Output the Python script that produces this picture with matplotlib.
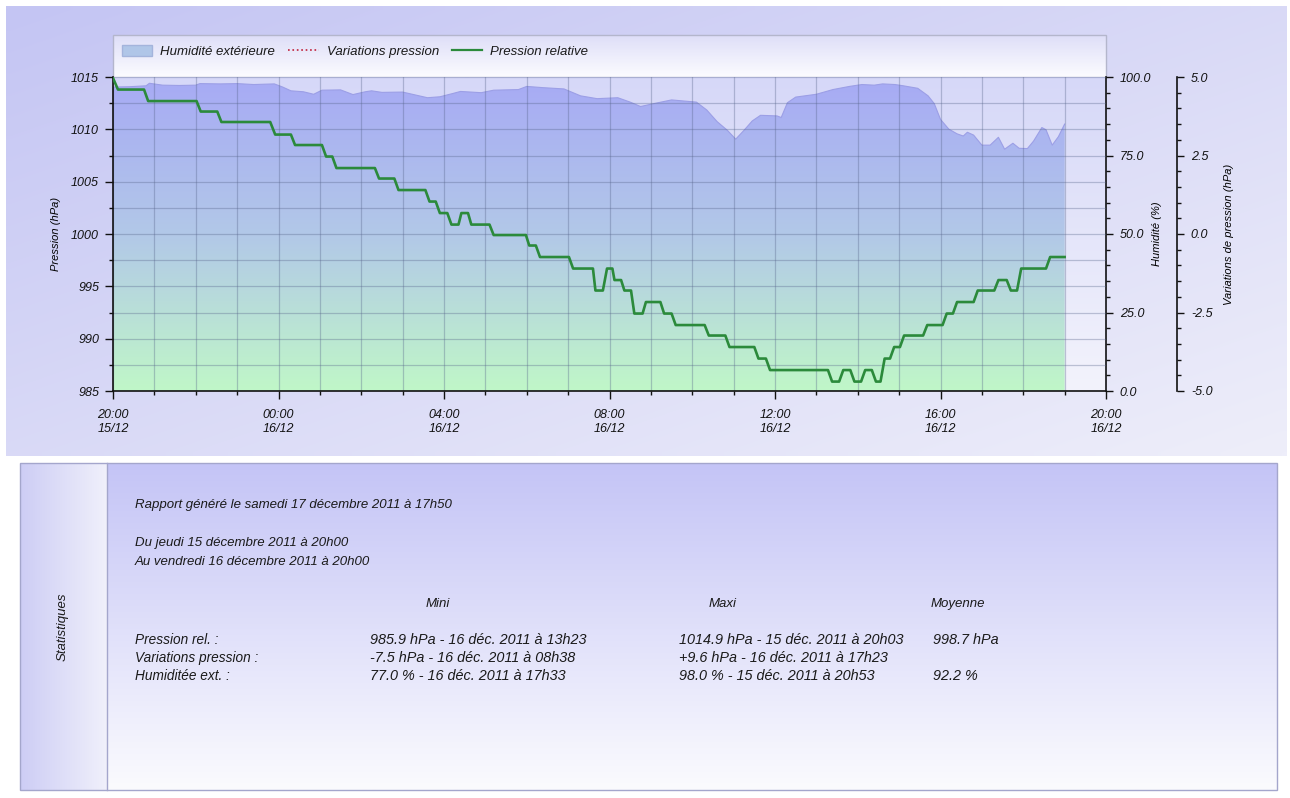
import numpy as np
import matplotlib
matplotlib.use('Agg')
import matplotlib.pyplot as plt
import matplotlib.dates as mdates
from matplotlib.ticker import MultipleLocator, FormatStrFormatter
from matplotlib.lines import Line2D
from matplotlib.patches import Patch, Rectangle
from datetime import datetime, timedelta

plt.rcParams['font.family'] = ['Liberation Sans', 'DejaVu Sans']
plt.rcParams['font.style'] = 'italic'
plt.rcParams['text.color'] = '#1a1a1a'

start = datetime(2011, 12, 15, 20, 0)

# pression relative (hPa) - heures depuis le 15/12 20h00
pres_hours = [0.00, 0.12, 0.75, 0.85, 2.02, 2.12, 2.52, 2.62, 3.80, 3.92,
              4.30, 4.40, 5.05, 5.15, 5.30, 5.40, 6.33, 6.43, 6.80, 6.90,
              7.55, 7.65, 7.80, 7.90, 8.08, 8.18, 8.35, 8.42, 8.58, 8.66,
              9.10, 9.20, 9.98, 10.06, 10.22, 10.32, 11.02, 11.12, 11.60, 11.66,
              11.84, 11.94, 12.07, 12.12, 12.28, 12.36, 12.52, 12.60, 12.80, 12.88,
              13.23, 13.32, 13.50, 13.60, 14.30, 14.40, 14.80, 14.90, 15.50, 15.60,
              15.78, 15.88, 17.28, 17.38, 17.55, 17.65, 17.82, 17.92, 18.08, 18.18,
              18.34, 18.44, 18.55, 18.65, 18.78, 18.88, 19.02, 19.12, 19.58, 19.68,
              20.05, 20.15, 20.30, 20.40, 20.80, 20.90, 21.30, 21.40, 21.60, 21.70,
              21.85, 21.95, 22.55, 22.65, 23.00]
pres_values = [1014.9, 1013.8, 1013.8, 1012.7, 1012.7, 1011.7, 1011.7, 1010.7, 1010.7, 1009.5,
               1009.5, 1008.5, 1008.5, 1007.4, 1007.4, 1006.3, 1006.3, 1005.3, 1005.3, 1004.2,
               1004.2, 1003.1, 1003.1, 1002.0, 1002.0, 1000.9, 1000.9, 1002.0, 1002.0, 1000.9,
               1000.9, 999.9, 999.9, 998.9, 998.9, 997.8, 997.8, 996.7, 996.7, 994.6,
               994.6, 996.7, 996.7, 995.6, 995.6, 994.6, 994.6, 992.4, 992.4, 993.5,
               993.5, 992.4, 992.4, 991.3, 991.3, 990.3, 990.3, 989.2, 989.2, 988.1,
               988.1, 987.0, 987.0, 985.9, 985.9, 987.0, 987.0, 985.9, 985.9, 987.0,
               987.0, 985.9, 985.9, 988.1, 988.1, 989.2, 989.2, 990.3, 990.3, 991.3,
               991.3, 992.4, 992.4, 993.5, 993.5, 994.6, 994.6, 995.6, 995.6, 994.6,
               994.6, 996.7, 996.7, 997.8, 997.8]

# humidite exterieure (%)
hum_hours = [0.00, 0.40, 0.80, 0.88, 1.20, 1.60, 2.00, 2.10, 2.60, 3.00,
             3.40, 3.90, 4.10, 4.30, 4.60, 4.85, 5.05, 5.50, 5.80, 6.10,
             6.25, 6.50, 7.00, 7.30, 7.60, 7.90, 8.20, 8.40, 8.90, 9.20,
             9.80, 10.00, 10.40, 10.90, 11.30, 11.70, 12.20, 12.50, 12.75, 13.10,
             13.50, 14.10, 14.35, 14.60, 14.85, 15.05, 15.25, 15.45, 15.65, 16.05,
             16.15, 16.30, 16.50, 17.00, 17.40, 17.80, 18.10, 18.40, 18.60, 18.90,
             19.10, 19.45, 19.70, 19.85, 20.00, 20.20, 20.40, 20.55, 20.65, 20.80,
             21.00, 21.20, 21.40, 21.55, 21.75, 21.90, 22.10, 22.25, 22.45, 22.55,
             22.70, 22.85, 23.00]
hum_values = [96.8, 96.9, 97.2, 98.0, 97.4, 97.3, 97.4, 97.9, 97.8, 97.9,
              97.6, 97.8, 96.8, 95.6, 95.3, 94.5, 95.8, 95.9, 94.4, 95.3,
              95.6, 95.1, 95.2, 94.3, 93.4, 93.7, 94.7, 95.4, 95.0, 95.8,
              96.0, 97.0, 96.6, 96.2, 94.0, 93.1, 93.4, 92.0, 90.6, 91.6,
              92.7, 92.0, 89.5, 85.8, 83.0, 80.2, 83.0, 86.0, 87.8, 87.6,
              87.1, 91.8, 93.6, 94.5, 96.0, 97.0, 97.6, 97.4, 97.8, 97.6,
              97.2, 96.4, 94.0, 91.5, 86.5, 83.4, 81.9, 81.2, 82.4, 81.5,
              78.3, 78.3, 80.8, 77.0, 78.9, 77.3, 77.2, 79.6, 83.9, 83.2,
              78.3, 81.0, 85.0]

legend_labels = ['Humidité extérieure', 'Variations pression', 'Pression relative']

report_lines = ['Rapport généré le samedi 17 décembre 2011 à 17h50',
                'Du jeudi 15 décembre 2011 à 20h00',
                'Au vendredi 16 décembre 2011 à 20h00']
stat_headers = ['Mini', 'Maxi', 'Moyenne']
stat_rows = ['Pression rel. :', 'Variations pression :', 'Humiditée ext. :']
stat_min = ['985.9 hPa - 16 déc. 2011 à 13h23',
            '-7.5 hPa - 16 déc. 2011 à 08h38',
            '77.0 % - 16 déc. 2011 à 17h33']
stat_max = ['1014.9 hPa - 15 déc. 2011 à 20h03',
            '+9.6 hPa - 16 déc. 2011 à 17h23',
            '98.0 % - 15 déc. 2011 à 20h53']
stat_mean = ['998.7 hPa', '', '92.2 %']


def to_dates(hours):
    return mdates.date2num([start + timedelta(hours=h) for h in hours])


def grad_img(ax, extent, colors, direction='v', **kw):
    # colors: rgb (0-255) du haut (ou de la gauche) vers le bas (ou la droite)
    cols = np.array(colors, dtype=float) / 255.0
    stops = np.linspace(0, 1, len(cols))
    if direction == 'd':
        ii, jj = np.mgrid[0:64, 0:128]
        t = 0.5 * ii / 63 + 0.5 * jj / 127
    elif direction == 'h':
        t = np.linspace(0, 1, 256)[None, :]
    else:
        t = np.linspace(0, 1, 256)[:, None]
    arr = np.dstack([np.interp(t, stops, cols[:, k]) for k in range(3)])
    return ax.imshow(arr, extent=extent, aspect='auto', interpolation='bilinear',
                     origin='upper', **kw)


fig = plt.figure(figsize=(12.9, 7.98), dpi=100)
fig.patch.set_facecolor('white')

# decor de fond, en pixels
bg = fig.add_axes([0, 0, 1, 1], zorder=-10)
bg.set_xlim(0, 1290)
bg.set_ylim(798, 0)
bg.axis('off')
grad_img(bg, (6, 1287, 456, 6), [(196, 197, 243), (238, 238, 250)], 'd')
grad_img(bg, (107, 1277, 790, 463), [(196, 196, 246), (251, 251, 254)], 'v')
grad_img(bg, (20, 107, 790, 463), [(205, 205, 245), (240, 240, 251)], 'h')
bg.add_patch(Rectangle((20, 463), 1257, 327, fill=False, ec='#a4a6cc', lw=1))
bg.plot([107, 107], [463, 790], color='#a4a6cc', lw=1)
grad_img(bg, (113, 1106, 77, 35), [(222, 222, 248), (252, 252, 255)], 'v')
bg.add_patch(Rectangle((113, 35), 993, 42, fill=False, ec='#b4b6cc', lw=1))
bg.set_xlim(0, 1290)
bg.set_ylim(798, 0)

# textes statistiques
bg.text(63, 627, 'Statistiques', rotation=90, ha='center', va='center', fontsize=9.5)
bg.text(135, 505, report_lines[0], ha='left', va='center', fontsize=9.5)
bg.text(135, 543, report_lines[1], ha='left', va='center', fontsize=9.5)
bg.text(135, 562, report_lines[2], ha='left', va='center', fontsize=9.5)
for hx_, h in zip([438, 723, 958], stat_headers):
    bg.text(hx_, 604, h, ha='center', va='center', fontsize=9.5)
for i in range(len(stat_rows)):
    y = 640 + 18 * i
    bg.text(135, y, stat_rows[i], ha='left', va='center', fontsize=9.8)
    bg.text(370, y, stat_min[i], ha='left', va='center', fontsize=10.4)
    bg.text(679, y, stat_max[i], ha='left', va='center', fontsize=10.4)
    bg.text(933, y, stat_mean[i], ha='left', va='center', fontsize=10.4)

# graphique
L, R, T, B = 113, 1106, 77, 391
ax = fig.add_axes([L / 1290, 1 - B / 798, (R - L) / 1290, (B - T) / 798])
ax2 = ax.twinx()
ax3 = ax.twinx()
ax.set_zorder(3)
ax2.set_zorder(1)
ax3.set_zorder(2)
for a in (ax, ax2, ax3):
    a.patch.set_visible(False)

x0 = mdates.date2num(start)
x1 = mdates.date2num(start + timedelta(hours=24))
hx = to_dates(hum_hours)
px = to_dates(pres_hours)

# fond de la zone de trace
grad_img(ax2, (x0, x1, 0, 100), [(214, 216, 248), (243, 243, 252)], 'v', zorder=0)
# humidite : remplissage degrade
poly = ax2.fill_between(hx, 0, hum_values, color='none', lw=0)
img = grad_img(ax2, (hx[0], hx[-1], 0, 100),
               [(167, 170, 245), (178, 200, 232), (192, 247, 200)], 'v', zorder=1)
img.set_clip_path(poly.get_paths()[0], transform=ax2.transData)
ax2.plot(hx, hum_values, color='#9c9fe6', lw=0.8, zorder=2)

ax.plot(px, pres_values, color='#2b8a3b', lw=1.9, zorder=5)

ax.set_xlim(x0, x1)
ax.set_ylim(985, 1015)
ax2.set_ylim(0, 100)
ax3.set_ylim(-5, 5)

ax.xaxis.set_major_locator(mdates.HourLocator(byhour=[0, 4, 8, 12, 16, 20]))
ax.xaxis.set_minor_locator(mdates.HourLocator())
ax.xaxis.set_major_formatter(mdates.DateFormatter('%H:%M\n%d/%m'))
ax.yaxis.set_major_locator(MultipleLocator(5))
ax.yaxis.set_minor_locator(MultipleLocator(2.5))
ax.yaxis.set_major_formatter(FormatStrFormatter('%d'))
ax2.yaxis.set_major_locator(MultipleLocator(25))
ax2.yaxis.set_minor_locator(MultipleLocator(5))
ax2.yaxis.set_major_formatter(FormatStrFormatter('%.1f'))
ax3.yaxis.set_major_locator(MultipleLocator(2.5))
ax3.yaxis.set_minor_locator(MultipleLocator(0.5))
ax3.yaxis.set_major_formatter(FormatStrFormatter('%.1f'))

ax.grid(which='both', color='#56648a', alpha=0.35, lw=0.9)

for a in (ax, ax2, ax3):
    for s in a.spines.values():
        s.set_visible(False)
ax.spines['left'].set_visible(True)
ax.spines['bottom'].set_visible(True)
ax2.spines['right'].set_visible(True)
ax3.spines['right'].set_visible(True)
ax3.spines['right'].set_position(('axes', 1.0715))
for s in (ax.spines['left'], ax.spines['bottom'], ax2.spines['right'], ax3.spines['right']):
    s.set_color('#111111')
    s.set_linewidth(1.2)

ax.tick_params(axis='both', which='major', direction='out', length=6, width=1,
               labelsize=9, colors='#111111', pad=4)
ax.tick_params(axis='both', which='minor', direction='out', length=3, width=1,
               colors='#111111')
ax.tick_params(axis='x', which='major', pad=7)
for a in (ax2, ax3):
    a.tick_params(axis='y', which='major', direction='out', length=5, width=1,
                  labelsize=9, colors='#111111', pad=5)
    a.tick_params(axis='y', which='minor', direction='out', length=3, width=1,
                  colors='#111111')

ax.set_ylabel('Pression (hPa)', fontsize=8, va='center')
ax.yaxis.set_label_coords(-0.0574, 0.5)
ax2.set_ylabel('Humidité (%)', fontsize=8, va='center')
ax2.yaxis.set_label_coords(1.0514, 0.5)
ax3.set_ylabel('Variations de pression (hPa)', fontsize=8, va='center')
ax3.yaxis.set_label_coords(1.1239, 0.5)

handles = [Patch(facecolor='#b0c6e8', edgecolor='#a4b4dc'),
           Line2D([], [], color='#c0203a', ls=':', lw=1.2),
           Line2D([], [], color='#2b8a3b', lw=1.6)]
fig.legend(handles, legend_labels, loc='upper left', ncol=3,
           bbox_to_anchor=(122 / 1290, 1 - 45 / 798), bbox_transform=fig.transFigure,
           frameon=False, fontsize=9.5, handlelength=2.3, handleheight=0.9,
           columnspacing=1.0, handletextpad=0.6, borderpad=0, borderaxespad=0)

fig.savefig('out.png', dpi=100)
